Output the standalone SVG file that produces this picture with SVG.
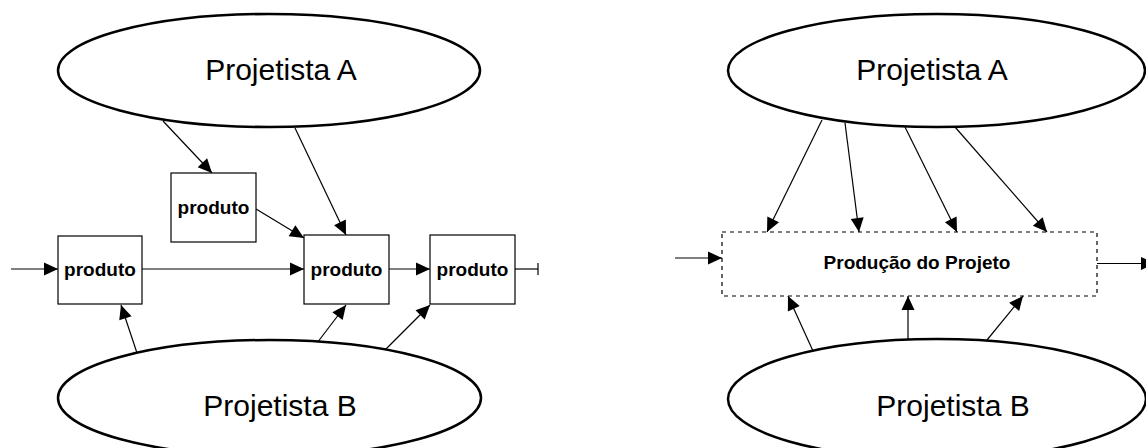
<svg xmlns="http://www.w3.org/2000/svg" width="1146" height="448" viewBox="0 0 1146 448">
<style>
.ell{fill:#fff;stroke:#000;stroke-width:2.5}
.box{fill:#fff;stroke:#000;stroke-width:1.2}
.dash{fill:none;stroke:#000;stroke-width:1.2;stroke-dasharray:4 4}
.big{font-family:"Liberation Sans",Arial,sans-serif;font-size:30px;text-anchor:middle;fill:#000}
.small{font-family:"Liberation Sans",Arial,sans-serif;font-size:19px;font-weight:bold;text-anchor:middle;fill:#000}
.c line{stroke:#000;stroke-width:1.2}
.arr{marker-end:url(#ah)}
</style>
<defs>
<marker id="ah" markerUnits="userSpaceOnUse" markerWidth="14" markerHeight="13" refX="14" refY="6.5" orient="auto" overflow="visible">
<path d="M0,0 L14,6.5 L0,13 z" fill="#000"/>
</marker>
</defs>
<rect width="1146" height="448" fill="#fff"/>

<g id="connectors" class="c">
<line class="arr" x1="163" y1="121" x2="212" y2="173"/>
<line class="arr" x1="295" y1="128" x2="346" y2="235"/>
<line class="arr" x1="256" y1="209" x2="304" y2="238"/>
<line class="arr" x1="11" y1="269" x2="58" y2="269"/>
<line class="arr" x1="142" y1="269" x2="304" y2="269"/>
<line class="arr" x1="389" y1="269" x2="430" y2="269"/>
<line x1="515" y1="269" x2="538" y2="269"/>
<line x1="538" y1="263" x2="538" y2="275"/>
<line class="arr" x1="137" y1="353" x2="121" y2="305"/>
<line class="arr" x1="317" y1="343" x2="346" y2="305"/>
<line class="arr" x1="385" y1="350" x2="430" y2="305"/>

<line class="arr" x1="822" y1="120" x2="767" y2="232"/>
<line class="arr" x1="845" y1="123" x2="859" y2="232"/>
<line class="arr" x1="905" y1="127" x2="957" y2="232"/>
<line class="arr" x1="955" y1="127" x2="1047" y2="232"/>
<line class="arr" x1="675" y1="258" x2="722" y2="258"/>
<line class="arr" x1="1097" y1="263.5" x2="1155" y2="263.5"/>
<line class="arr" x1="813" y1="351" x2="788" y2="296"/>
<line class="arr" x1="908" y1="340" x2="908" y2="296"/>
<line class="arr" x1="987" y1="340" x2="1023" y2="296"/>
</g>

<g id="projA-left">
<ellipse class="ell" cx="269" cy="70.5" rx="211" ry="56.5"/>
<text class="big" x="281" y="80">Projetista A</text>
</g>
<g id="projB-left">
<ellipse class="ell" cx="269.5" cy="398" rx="211.5" ry="58"/>
<text class="big" x="280" y="416">Projetista B</text>
</g>
<g id="produto-top">
<rect class="box" x="171" y="173" width="85" height="69"/>
<text class="small" x="213.5" y="214">produto</text>
</g>
<g id="produto-1">
<rect class="box" x="58" y="236" width="84" height="68"/>
<text class="small" x="100" y="276">produto</text>
</g>
<g id="produto-2">
<rect class="box" x="304" y="235" width="85" height="69"/>
<text class="small" x="346.5" y="276">produto</text>
</g>
<g id="produto-3">
<rect class="box" x="430" y="235" width="85" height="69"/>
<text class="small" x="472.5" y="276">produto</text>
</g>

<g id="projA-right">
<ellipse class="ell" cx="936.5" cy="70.5" rx="208.5" ry="56.5"/>
<text class="big" x="932" y="80">Projetista A</text>
</g>
<g id="producao">
<rect class="dash" x="722" y="232" width="375" height="64"/>
<text class="small" x="917" y="269">Produção do Projeto</text>
</g>
<g id="projB-right">
<ellipse class="ell" cx="937" cy="399" rx="209" ry="60"/>
<text class="big" x="953" y="416">Projetista B</text>
</g>
</svg>
